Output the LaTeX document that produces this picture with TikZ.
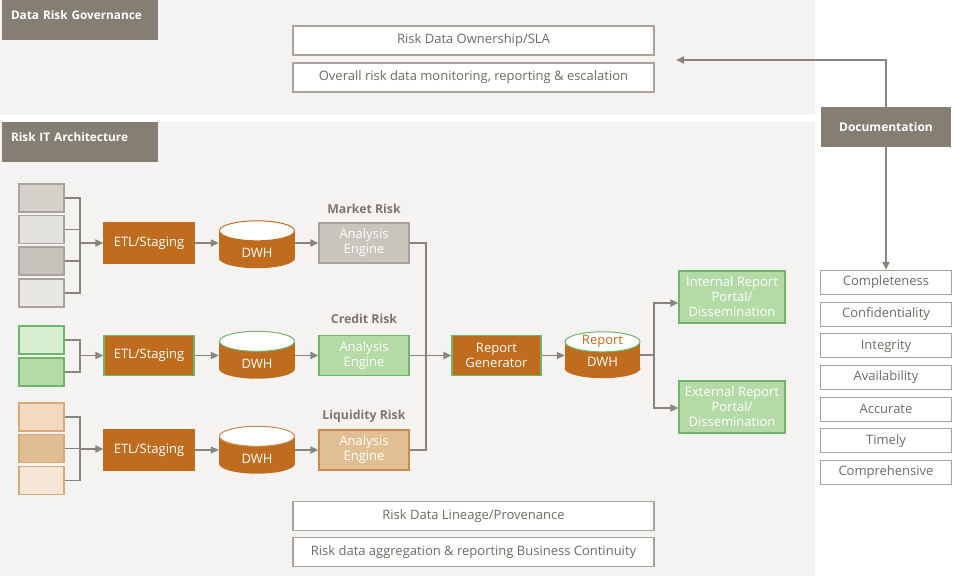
\documentclass[tikz,border=0pt]{standalone}
\usepackage{fontspec}
\setmainfont{Open Sans}
\usetikzlibrary{arrows.meta,calc}
\definecolor{panelC}{HTML}{F4F3F1}
\definecolor{headC}{HTML}{857F73}
\definecolor{orangeC}{HTML}{C06C1E}
\definecolor{greenF}{HTML}{B4DBA6}
\definecolor{greenL}{HTML}{D8EED1}
\definecolor{greenB}{HTML}{6DB66B}
\definecolor{grayF}{HTML}{C9C5BD}
\definecolor{grayB}{HTML}{A8A39B}
\definecolor{lineC}{HTML}{8A857C}
\definecolor{textC}{HTML}{6F6A62}
\definecolor{labC}{HTML}{7B766D}
\definecolor{liqF}{HTML}{E2BF93}
\definecolor{liqB}{HTML}{C98A4E}
\definecolor{liqS1}{HTML}{F1DAC0}
\definecolor{liqS2}{HTML}{E0BE93}
\definecolor{liqS3}{HTML}{F5E6D7}
\definecolor{liqSB}{HTML}{D9A97C}
\definecolor{mS1}{HTML}{D4D1CB}
\definecolor{mS2}{HTML}{E3E1DD}
\definecolor{mS3}{HTML}{C6C2BB}
\definecolor{mS4}{HTML}{E8E7E4}
\newcommand\drawcyl[2]{%
  \fill[orangeC] ([yshift=-10pt]#1.north west) rectangle ([yshift=10pt]#1.south east);
  \fill[orangeC] ([yshift=10pt]#1.south) ellipse[x radius=38pt, y radius=10pt];
  \filldraw[fill=white, draw=#2, line width=1pt] ([yshift=-10pt]#1.north) ellipse[x radius=37.5pt, y radius=10pt];
}
\begin{document}
\begin{tikzpicture}[x=1pt,y=-1pt,
  font=\fontsize{13}{15}\selectfont,
  box/.style={rectangle, inner sep=0pt, align=center},
  headbox/.style={box, fill=headC, text=white, font=\fontsize{11.8}{15}\selectfont\bfseries, minimum width=156pt, minimum height=40pt, text width=138pt, align=left, text height=9pt, text depth=9pt},
  wbox/.style={box, fill=white, draw=grayB, line width=1.2pt, text=textC},
  longbox/.style={wbox, minimum width=361pt, minimum height=29pt},
  qbox/.style={wbox, minimum width=131pt, minimum height=24pt},
  src/.style={box, line width=1.2pt, minimum width=45pt, minimum height=28pt},
  etl/.style={box, fill=orangeC, text=white, line width=1.2pt, minimum width=90pt, minimum height=40pt},
  eng/.style={box, text=white, line width=1.2pt, minimum width=90pt, minimum height=40pt},
  cyl/.style={box, minimum width=76pt, minimum height=47pt},
  lab/.style={text=labC, font=\fontsize{12.3}{15}\selectfont\bfseries},
  wtxt/.style={text=white},
  portal/.style={box, fill=greenF, draw=greenB, text=white, line width=1.2pt, minimum width=106pt, minimum height=52pt},
  conn/.style={draw=lineC, line width=1.8pt},
  arr/.style={conn, -{Triangle[length=8pt,width=7pt]}}
]
\useasboundingbox (0,0) rectangle (954,578);
% panels
\fill[panelC] (0,0) rectangle (815,115);
\fill[panelC] (0,122) rectangle (815,576);
\node[headbox] (hgov) at (80,20) {Data Risk Governance};
\node[headbox] (harch) at (80,142) {Risk IT Architecture};

% governance boxes
\node[longbox] (own) at (473.5,40.5) {Risk Data Ownership/SLA};
\node[longbox] (mon) at (473.5,77.5) {Overall risk data monitoring, reporting \& escalation};

% documentation
\node[box, fill=headC, text=white, font=\fontsize{12}{15}\selectfont\bfseries, minimum width=130pt, minimum height=40pt] (doc) at (886,127) {Documentation};
\coordinate (govin) at (676,60);
\draw[arr] (doc.north) |- (govin);
\node[qbox] (q1) at (886,282.5) {Completeness};
\node[qbox] (q2) at (886,314.2) {Confidentiality};
\node[qbox] (q3) at (886,345.8) {Integrity};
\node[qbox] (q4) at (886,377.5) {Availability};
\node[qbox] (q5) at (886,409.2) {Accurate};
\node[qbox] (q6) at (886,440.8) {Timely};
\node[qbox] (q7) at (886,472.5) {Comprehensive};
\draw[arr] (doc.south) -- (q1.north);

% bottom boxes
\node[longbox] (lin) at (473.5,516) {Risk Data Lineage/Provenance};
\node[longbox] (bc) at (473.5,552) {Risk data aggregation \& reporting Business Continuity};

% ---------- market row
\node[src, fill=mS1, draw=grayB] (m1) at (41.5,198) {};
\node[src, fill=mS2, draw=grayB] (m2) at (41.5,229.5) {};
\node[src, fill=mS3, draw=grayB] (m3) at (41.5,261) {};
\node[src, fill=mS4, draw=grayB] (m4) at (41.5,293) {};
\node[etl, draw=orangeC] (etlM) at (149,243) {ETL/Staging};
\coordinate (busM) at (80,243);
\foreach \s in {m1,m2,m3,m4} {\draw[conn] (\s.east) -| (busM);}
\draw[arr] (busM) -- (etlM.west);
\node[cyl] (dwhM) at (257,244.5) {};
\drawcyl{dwhM}{orangeC}
\node[wtxt] (dwhMt) at ([yshift=-8.5pt]dwhM.center) {DWH};
\node[eng, fill=grayF, draw=grayB] (engM) at (364,243) {Analysis\\Engine};
\node[lab] (labM) at (364,209) {Market Risk};
\draw[arr] (etlM.east) -- (etlM.east -| dwhM.west);
\draw[arr] (dwhM.east |- engM.west) -- (engM.west);

% ---------- credit row
\node[src, fill=greenL, draw=greenB] (c1) at (41.5,340) {};
\node[src, fill=greenF, draw=greenB] (c2) at (41.5,372) {};
\node[etl, draw=greenB] (etlC) at (149,355.5) {ETL/Staging};
\coordinate (busC) at (80,355.5);
\foreach \s in {c1,c2} {\draw[conn] (\s.east) -| (busC);}
\draw[arr] (busC) -- (etlC.west);
\node[cyl] (dwhC) at (257,355) {};
\drawcyl{dwhC}{greenB}
\node[wtxt] (dwhCt) at ([yshift=-8.5pt]dwhC.center) {DWH};
\node[eng, fill=greenF, draw=greenB] (engC) at (364,355.5) {Analysis\\Engine};
\node[lab] (labC) at (364,319) {Credit Risk};
\draw[arr] (etlC.east) -- (etlC.east -| dwhC.west);
\draw[arr] (dwhC.east |- engC.west) -- (engC.west);

% ---------- liquidity row
\node[src, fill=liqS1, draw=liqSB] (l1) at (41.5,417) {};
\node[src, fill=liqS2, draw=liqSB] (l2) at (41.5,448.5) {};
\node[src, fill=liqS3, draw=liqSB] (l3) at (41.5,480.5) {};
\node[etl, draw=orangeC] (etlL) at (149,450) {ETL/Staging};
\coordinate (busL) at (80,449);
\foreach \s in {l1,l2,l3} {\draw[conn] (\s.east) -| (busL);}
\draw[arr] (busL) -- (busL -| etlL.west);
\node[cyl] (dwhL) at (257,450) {};
\drawcyl{dwhL}{liqB}
\node[wtxt] (dwhLt) at ([yshift=-8.5pt]dwhL.center) {DWH};
\node[eng, fill=liqF, draw=liqB] (engL) at (364,450) {Analysis\\Engine};
\node[lab] (labL) at (364,416) {Liquidity Risk};
\draw[arr] (etlL.east) -- (etlL.east -| dwhL.west);
\draw[arr] (dwhL.east |- engL.west) -- (engL.west);

% ---------- reporting
\node[etl, draw=greenB, minimum width=89pt] (rgen) at (496.5,355.5) {Report\\Generator};
\coordinate (collect) at (426,355.5);
\draw[conn] (engM.east) -| (collect);
\draw[conn] (engL.east) -| (collect);
\draw[arr] (engC.east) -- (rgen.west);
\node[cyl, minimum width=75pt, minimum height=46pt] (rdwh) at (602.5,355) {};
\drawcyl{rdwh}{greenB}
\node[text=orangeC] (rdwht1) at ([yshift=-10pt]rdwh.north) {Report};
\node[wtxt] (rdwht2) at ([yshift=-7pt]rdwh.center) {DWH};
\draw[arr] (rgen.east) -- (rgen.east -| rdwh.west);
\node[portal] (intl) at (732,297) {Internal Report\\Portal/\\Dissemination};
\node[portal] (extl) at (732,407) {External Report\\Portal/\\Dissemination};
\coordinate (split) at (654,355);
\draw[conn] (rdwh.east) -- (split);
\draw[arr] (split) |- ([yshift=-6pt]intl.west);
\draw[arr] (split) |- ([yshift=-1pt]extl.west);
\end{tikzpicture}
\end{document}
